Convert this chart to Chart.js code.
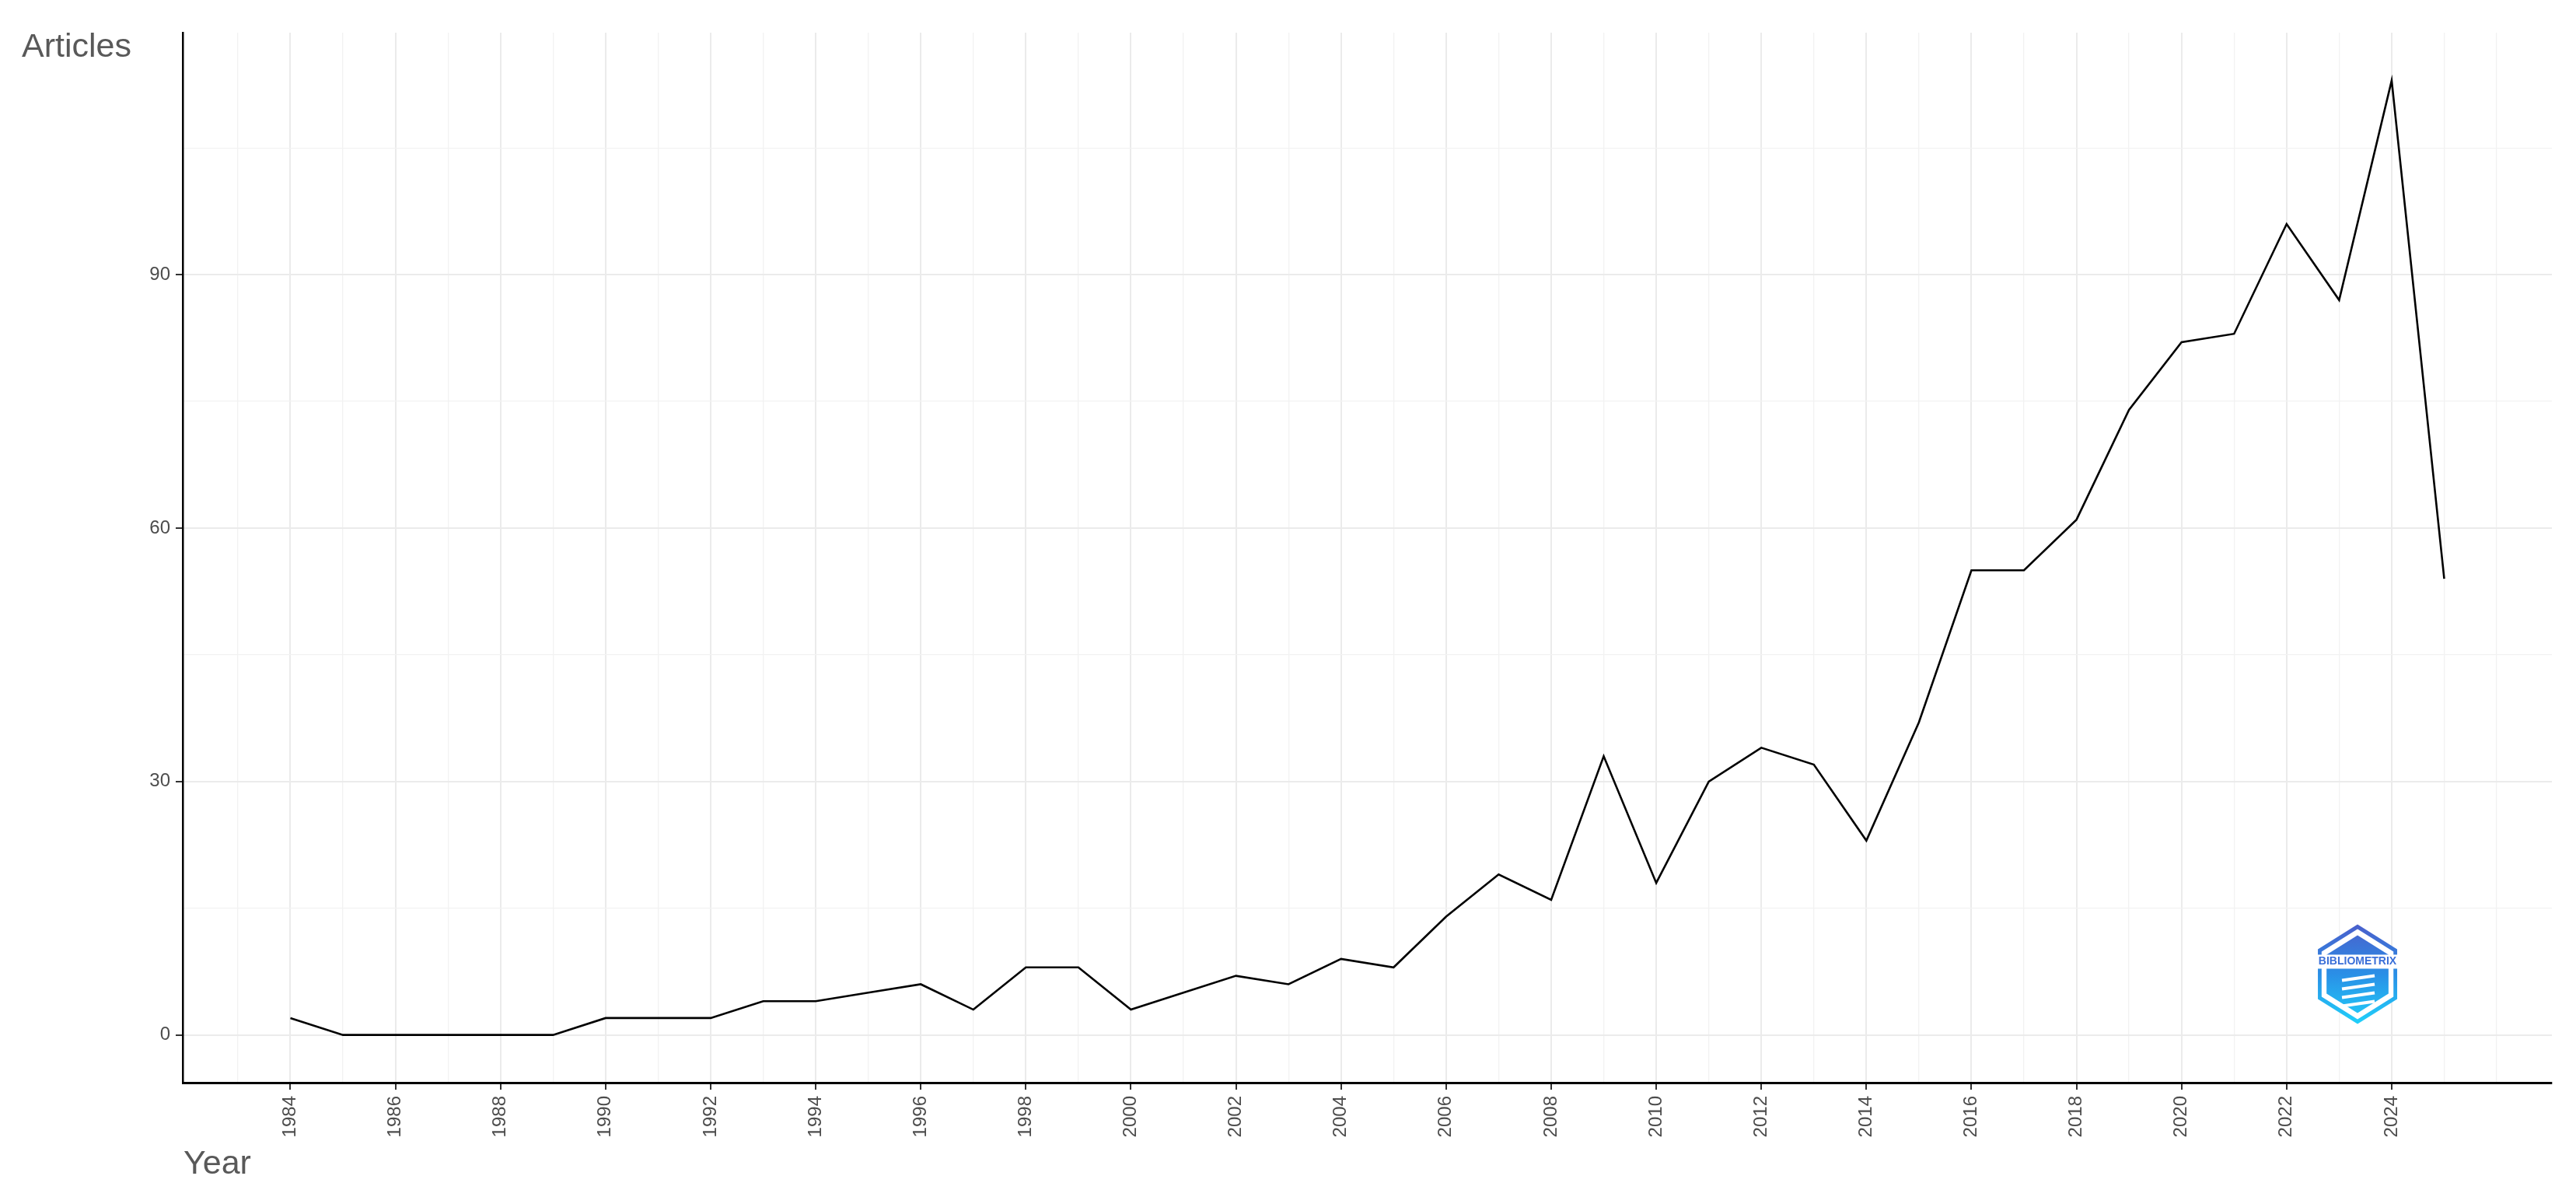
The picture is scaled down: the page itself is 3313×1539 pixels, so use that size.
<!DOCTYPE html>
<html>
<head>
<meta charset="utf-8">
<title>Annual scientific production</title>
<script src="https://cdn.jsdelivr.net/npm/chart.js@4.4.1/dist/chart.umd.min.js"></script>
<style>
  html, body { margin: 0; padding: 0; background: #ffffff; }
  canvas { display: block; }
</style>
</head>
<body>
<canvas id="chart" width="3313" height="1539"></canvas>
<script>
// années et nombre d'articles
const years = [1984, 1985, 1986, 1987, 1988, 1989, 1990, 1991, 1992, 1993,
  1994, 1995, 1996, 1997, 1998, 1999, 2000, 2001, 2002, 2003,
  2004, 2005, 2006, 2007, 2008, 2009, 2010, 2011, 2012, 2013,
  2014, 2015, 2016, 2017, 2018, 2019, 2020, 2021, 2022, 2023,
  2024, 2025];
const articles = [2, 0, 0, 0, 0, 0, 2, 2, 2, 4,
  4, 5, 6, 3, 8, 8, 3, 5, 7, 6,
  9, 8, 14, 19, 16, 33, 18, 30, 34, 32,
  23, 37, 55, 55, 61, 74, 82, 83, 96, 87,
  113, 54];

const yearLabels = [1984, 1986, 1988, 1990, 1992, 1994, 1996, 1998, 2000, 2002,
  2004, 2006, 2008, 2010, 2012, 2014, 2016, 2018, 2020, 2022, 2024];
const yearGrid = [1983, 1984, 1985, 1986, 1987, 1988, 1989, 1990, 1991, 1992,
  1993, 1994, 1995, 1996, 1997, 1998, 1999, 2000, 2001, 2002, 2003, 2004,
  2005, 2006, 2007, 2008, 2009, 2010, 2011, 2012, 2013, 2014, 2015, 2016,
  2017, 2018, 2019, 2020, 2021, 2022, 2023, 2024, 2025, 2026];
const articleLabels = [0, 30, 60, 90];
const articleGrid = [0, 15, 30, 45, 60, 75, 90, 105];

const textGrey = '#4d4d4d';
const titleGrey = '#595959';
const fontFamily = '"Liberation Sans", Arial, sans-serif';

// titres des axes + logo dessinés à la main
const decor = {
  id: 'decor',
  afterDraw(chart) {
    const c = chart.ctx;
    c.save();
    c.fillStyle = titleGrey;
    c.font = '43px ' + fontFamily;
    c.textAlign = 'left';
    c.textBaseline = 'alphabetic';
    c.fillText('Articles', 28, 73);
    c.fillText('Year', 236, 1509);

    // logo bibliometrix (approximation)
    const cx = chart.scales.x.getPixelForValue(2023.35);
    const cy = chart.scales.y.getPixelForValue(7.2);
    const r = 64;
    const hex = (rad) => {
      c.beginPath();
      for (let i = 0; i < 6; i++) {
        const a = Math.PI / 3 * i - Math.PI / 2;
        const px = cx + rad * Math.cos(a) * 0.92;
        const py = cy + rad * Math.sin(a);
        if (i === 0) c.moveTo(px, py); else c.lineTo(px, py);
      }
      c.closePath();
    };
    const grad = c.createLinearGradient(0, cy - r, 0, cy + r);
    grad.addColorStop(0, '#4a5fcc');
    grad.addColorStop(0.5, '#2a8fe6');
    grad.addColorStop(1, '#20d0fa');
    hex(r);
    c.fillStyle = grad;
    c.fill();
    hex(r - 6);
    c.fillStyle = '#ffffff';
    c.fill();
    hex(r - 14);
    c.fillStyle = grad;
    c.fill();
    c.fillStyle = '#ffffff';
    c.fillRect(cx - 52, cy - 25, 104, 18);
    c.fillStyle = '#3a6fd8';
    c.font = 'bold 14px ' + fontFamily;
    c.textAlign = 'center';
    c.textBaseline = 'middle';
    c.fillText('BIBLIOMETRIX', cx, cy - 16);
    c.strokeStyle = '#ffffff';
    c.lineWidth = 4;
    for (let k = 0; k < 4; k++) {
      c.beginPath();
      c.moveTo(cx - 20, cy + 8 + k * 11);
      c.lineTo(cx + 22, cy + 2 + k * 11);
      c.stroke();
    }
    c.restore();
  }
};

const ctx = document.getElementById('chart');
const chart = new Chart(ctx, {
  type: 'line',
  data: {
    datasets: [{
      data: years.map((y, i) => ({ x: y, y: articles[i] })),
      borderColor: '#000000',
      borderWidth: 2.6,
      pointRadius: 0,
      tension: 0,
      fill: false
    }]
  },
  options: {
    responsive: false,
    devicePixelRatio: 1,
    animation: false,
    layout: { padding: { left: 0, top: 42, right: 31, bottom: 0 } },
    plugins: {
      legend: { display: false },
      tooltip: { enabled: false }
    },
    scales: {
      x: {
        type: 'linear',
        min: 1981.95,
        max: 2027.05,
        afterBuildTicks: (scale) => { scale.ticks = yearGrid.map(v => ({ value: v })); },
        afterFit: (scale) => { scale.height = 147; },
        grid: {
          color: (c) => yearLabels.includes(c.tick.value) ? '#ebebeb' : '#f2f2f2',
          lineWidth: (c) => yearLabels.includes(c.tick.value) ? 2 : 1.3,
          tickColor: (c) => yearLabels.includes(c.tick.value) ? '#333333' : 'rgba(0,0,0,0)',
          tickLength: 9,
          tickWidth: 2
        },
        border: { color: '#000000', width: 3 },
        ticks: {
          autoSkip: false,
          maxRotation: 90,
          minRotation: 90,
          padding: 8,
          color: textGrey,
          font: { family: fontFamily, size: 24 },
          callback: (v) => yearLabels.includes(v) ? String(v) : ''
        }
      },
      y: {
        type: 'linear',
        min: -5.65,
        max: 118.65,
        afterBuildTicks: (scale) => { scale.ticks = articleGrid.map(v => ({ value: v })); },
        afterFit: (scale) => { scale.width = 235; },
        grid: {
          color: (c) => articleLabels.includes(c.tick.value) ? '#ebebeb' : '#f2f2f2',
          lineWidth: (c) => articleLabels.includes(c.tick.value) ? 2 : 1.3,
          tickColor: (c) => articleLabels.includes(c.tick.value) ? '#333333' : 'rgba(0,0,0,0)',
          tickLength: 9,
          tickWidth: 2
        },
        border: { color: '#000000', width: 2.5 },
        ticks: {
          padding: 7,
          color: textGrey,
          font: { family: fontFamily, size: 24 },
          callback: (v) => articleLabels.includes(v) ? String(v) : ''
        }
      }
    }
  },
  plugins: [decor]
});
</script>
</body>
</html>
